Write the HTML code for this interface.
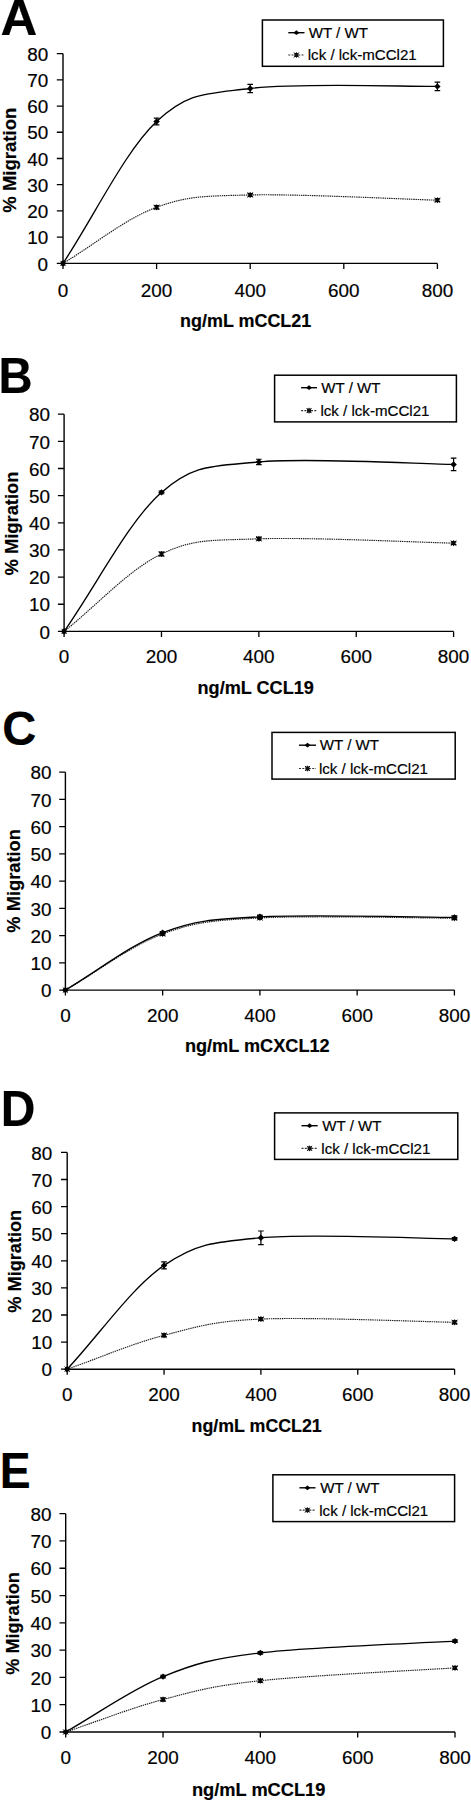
<!DOCTYPE html>
<html><head><meta charset="utf-8"><style>
html,body{margin:0;padding:0;background:#fff;}
body{width:471px;height:1800px;overflow:hidden;}
svg{display:block;font-family:"Liberation Sans", sans-serif;}
text{stroke:#000;stroke-width:0.18px;}
</style></head><body>
<svg width="471" height="1800" viewBox="0 0 471 1800" fill="#000">
<text transform="translate(0.57,35.3) scale(1.020,1)" font-size="49.93" font-weight="bold">A</text>
<path d="M63,53.6 V263.4" stroke="#000" stroke-width="1.4" fill="none"/>
<path d="M56.8,263.4 H63 M56.8,237.17 H63 M56.8,210.95 H63 M56.8,184.72 H63 M56.8,158.5 H63 M56.8,132.27 H63 M56.8,106.05 H63 M56.8,79.82 H63 M56.8,53.6 H63 " stroke="#000" stroke-width="1.3" fill="none"/>
<text x="37.57" y="270.61" font-size="18.9">0</text>
<text x="27.18" y="244.38" font-size="18.9">10</text>
<text x="27.18" y="218.16" font-size="18.9">20</text>
<text x="27.18" y="191.93" font-size="18.9">30</text>
<text x="27.18" y="165.71" font-size="18.9">40</text>
<text x="27.18" y="139.48" font-size="18.9">50</text>
<text x="27.18" y="113.26" font-size="18.9">60</text>
<text x="27.18" y="87.03" font-size="18.9">70</text>
<text x="27.18" y="60.81" font-size="18.9">80</text>
<text transform="translate(15.63,212.66) rotate(-90)" font-size="18.53" font-weight="bold">% Migration</text>
<path d="M63,263.4 H437.4" stroke="#000" stroke-width="1.4" fill="none"/>
<path d="M63,263.4 V268.9 M156.6,263.4 V268.9 M250.2,263.4 V268.9 M343.8,263.4 V268.9 M437.4,263.4 V268.9 " stroke="#000" stroke-width="1.3" fill="none"/>
<text x="63" y="296.5" font-size="18.9" text-anchor="middle">0</text>
<text x="156.6" y="296.5" font-size="18.9" text-anchor="middle">200</text>
<text x="250.2" y="296.5" font-size="18.9" text-anchor="middle">400</text>
<text x="343.8" y="296.5" font-size="18.9" text-anchor="middle">600</text>
<text x="437.4" y="296.5" font-size="18.9" text-anchor="middle">800</text>
<text x="180.04" y="326.7" font-size="17.96" font-weight="bold" xml:space="preserve">ng/mL mCCL21</text>
<rect x="262.4" y="20" width="181" height="46.3" fill="none" stroke="#000" stroke-width="1.5"/>
<path d="M288.3,32.7 H304.5" stroke="#000" stroke-width="1.4"/>
<path d="M296.4,30.3 L299.4,32.7 L296.4,35.1 L293.4,32.7Z" fill="#000"/>
<path d="M288.3,55 H304.5" stroke="#333" stroke-width="1.2" stroke-dasharray="2,1.3"/>
<rect x="294.4" y="53" width="4" height="4" fill="#111"/><path d="M293.9,52.5 L298.9,57.5 M298.9,52.5 L293.9,57.5 M296.4,52.2 L296.4,57.8" stroke="#111" stroke-width="1"/>
<text x="308.65" y="37.8" font-size="15.1" font-weight="normal" xml:space="preserve">WT / WT</text>
<text x="307.74" y="60.4" font-size="15.1" font-weight="normal" xml:space="preserve">lck / lck-mCCl21</text>
<path d="M63,263.4 C94.2,244.69 125.4,218.69 156.6,207.28 C187.8,195.87 203.4,196.13 250.2,194.95 C297,193.77 406.2,199.32 437.4,200.2" stroke="#1a1a1a" stroke-width="1.15" fill="none" stroke-dasharray="1.4,0.8"/>
<path d="M63,263.4 C94.2,216.11 125.4,150.68 156.6,121.52 C187.8,92.37 203.4,94.34 250.2,88.48 C297,82.62 406.2,86.73 437.4,86.38" stroke="#000" stroke-width="1.35" fill="none"/>
<rect x="61" y="261.4" width="4" height="4" fill="#111"/><path d="M60.4,260.8 L65.6,266 M65.6,260.8 L60.4,266 M63,260.5 L63,266.3" stroke="#111" stroke-width="1"/>

<rect x="154.6" y="205.28" width="4" height="4" fill="#111"/><path d="M154,204.68 L159.2,209.88 M159.2,204.68 L154,209.88 M156.6,204.38 L156.6,210.18" stroke="#111" stroke-width="1"/>
<path d="M156.6,205.7 V208.85 M153.8,205.7 H159.4 M153.8,208.85 H159.4" stroke="#000" stroke-width="1.2" fill="none"/>
<rect x="248.2" y="192.95" width="4" height="4" fill="#111"/><path d="M247.6,192.35 L252.8,197.55 M252.8,192.35 L247.6,197.55 M250.2,192.05 L250.2,197.85" stroke="#111" stroke-width="1"/>
<path d="M250.2,193.64 V196.26 M247.4,193.64 H253 M247.4,196.26 H253" stroke="#000" stroke-width="1.2" fill="none"/>
<rect x="435.4" y="198.2" width="4" height="4" fill="#111"/><path d="M434.8,197.6 L440,202.8 M440,197.6 L434.8,202.8 M437.4,197.3 L437.4,203.1" stroke="#111" stroke-width="1"/>
<path d="M437.4,198.89 V201.51 M434.6,198.89 H440.2 M434.6,201.51 H440.2" stroke="#000" stroke-width="1.2" fill="none"/>
<path d="M63,260.2 L66.2,263.4 L63,266.6 L59.8,263.4Z" fill="#000"/>

<path d="M156.6,118.32 L159.8,121.52 L156.6,124.72 L153.4,121.52Z" fill="#000"/>
<path d="M156.6,118.11 V124.93 M153.8,118.11 H159.4 M153.8,124.93 H159.4" stroke="#000" stroke-width="1.2" fill="none"/>
<path d="M250.2,85.28 L253.4,88.48 L250.2,91.68 L247,88.48Z" fill="#000"/>
<path d="M250.2,84.28 V92.68 M247.4,84.28 H253 M247.4,92.68 H253" stroke="#000" stroke-width="1.2" fill="none"/>
<path d="M437.4,83.18 L440.6,86.38 L437.4,89.58 L434.2,86.38Z" fill="#000"/>
<path d="M437.4,82.19 V90.58 M434.6,82.19 H440.2 M434.6,90.58 H440.2" stroke="#000" stroke-width="1.2" fill="none"/>
<text transform="translate(-1.4,393.2) scale(0.947,1)" font-size="49.86" font-weight="bold">B</text>
<path d="M64.1,414.2 V631.4" stroke="#000" stroke-width="1.4" fill="none"/>
<path d="M57.9,631.4 H64.1 M57.9,604.25 H64.1 M57.9,577.1 H64.1 M57.9,549.95 H64.1 M57.9,522.8 H64.1 M57.9,495.65 H64.1 M57.9,468.5 H64.1 M57.9,441.35 H64.1 M57.9,414.2 H64.1 " stroke="#000" stroke-width="1.3" fill="none"/>
<text x="39.47" y="638.61" font-size="18.9">0</text>
<text x="29.08" y="611.46" font-size="18.9">10</text>
<text x="29.08" y="584.31" font-size="18.9">20</text>
<text x="29.08" y="557.16" font-size="18.9">30</text>
<text x="29.08" y="530.01" font-size="18.9">40</text>
<text x="29.08" y="502.86" font-size="18.9">50</text>
<text x="29.08" y="475.71" font-size="18.9">60</text>
<text x="29.08" y="448.56" font-size="18.9">70</text>
<text x="29.08" y="421.41" font-size="18.9">80</text>
<text transform="translate(17.82,575.55) rotate(-90)" font-size="18.38" font-weight="bold">% Migration</text>
<path d="M64.1,631.4 H453.6" stroke="#000" stroke-width="1.4" fill="none"/>
<path d="M64.1,631.4 V636.9 M161.47,631.4 V636.9 M258.85,631.4 V636.9 M356.23,631.4 V636.9 M453.6,631.4 V636.9 " stroke="#000" stroke-width="1.3" fill="none"/>
<text x="64.1" y="663.3" font-size="18.9" text-anchor="middle">0</text>
<text x="161.47" y="663.3" font-size="18.9" text-anchor="middle">200</text>
<text x="258.85" y="663.3" font-size="18.9" text-anchor="middle">400</text>
<text x="356.23" y="663.3" font-size="18.9" text-anchor="middle">600</text>
<text x="453.6" y="663.3" font-size="18.9" text-anchor="middle">800</text>
<text x="197.53" y="694.2" font-size="18.12" font-weight="bold" xml:space="preserve">ng/mL CCL19</text>
<rect x="274.6" y="375.2" width="181.8" height="46.7" fill="none" stroke="#000" stroke-width="1.5"/>
<path d="M301.1,387.7 H317" stroke="#000" stroke-width="1.4"/>
<path d="M309.05,385.3 L312.05,387.7 L309.05,390.1 L306.05,387.7Z" fill="#000"/>
<path d="M301.1,410.6 H317" stroke="#333" stroke-width="1.2" stroke-dasharray="2,1.3"/>
<rect x="307.05" y="408.6" width="4" height="4" fill="#111"/><path d="M306.55,408.1 L311.55,413.1 M311.55,408.1 L306.55,413.1 M309.05,407.8 L309.05,413.4" stroke="#111" stroke-width="1"/>
<text x="321.35" y="392.8" font-size="15.1" font-weight="normal" xml:space="preserve">WT / WT</text>
<text x="320.44" y="416" font-size="15.1" font-weight="normal" xml:space="preserve">lck / lck-mCCl21</text>
<path d="M64.1,631.4 C96.56,605.61 129.02,569.45 161.47,554.02 C193.93,538.59 210.16,540.63 258.85,538.82 C307.54,537.01 421.14,542.44 453.6,543.16" stroke="#1a1a1a" stroke-width="1.15" fill="none" stroke-dasharray="1.4,0.8"/>
<path d="M64.1,631.4 C96.56,585.06 129.02,520.63 161.47,492.39 C193.93,464.16 210.16,466.64 258.85,461.98 C307.54,457.32 421.14,464.02 453.6,464.43" stroke="#000" stroke-width="1.35" fill="none"/>
<rect x="62.1" y="629.4" width="4" height="4" fill="#111"/><path d="M61.5,628.8 L66.7,634 M66.7,628.8 L61.5,634 M64.1,628.5 L64.1,634.3" stroke="#111" stroke-width="1"/>

<rect x="159.47" y="552.02" width="4" height="4" fill="#111"/><path d="M158.88,551.42 L164.07,556.62 M164.07,551.42 L158.88,556.62 M161.47,551.12 L161.47,556.92" stroke="#111" stroke-width="1"/>
<path d="M161.47,552.12 V555.92 M158.67,552.12 H164.28 M158.67,555.92 H164.28" stroke="#000" stroke-width="1.2" fill="none"/>
<rect x="256.85" y="536.82" width="4" height="4" fill="#111"/><path d="M256.25,536.22 L261.45,541.42 M261.45,536.22 L256.25,541.42 M258.85,535.92 L258.85,541.72" stroke="#111" stroke-width="1"/>
<path d="M258.85,537.46 V540.18 M256.05,537.46 H261.65 M256.05,540.18 H261.65" stroke="#000" stroke-width="1.2" fill="none"/>
<rect x="451.6" y="541.16" width="4" height="4" fill="#111"/><path d="M451,540.56 L456.2,545.76 M456.2,540.56 L451,545.76 M453.6,540.26 L453.6,546.06" stroke="#111" stroke-width="1"/>
<path d="M453.6,541.81 V544.52 M450.8,541.81 H456.4 M450.8,544.52 H456.4" stroke="#000" stroke-width="1.2" fill="none"/>
<path d="M64.1,628.2 L67.3,631.4 L64.1,634.6 L60.9,631.4Z" fill="#000"/>

<path d="M161.47,489.19 L164.67,492.39 L161.47,495.59 L158.28,492.39Z" fill="#000"/>
<path d="M161.47,491.03 V493.75 M158.67,491.03 H164.28 M158.67,493.75 H164.28" stroke="#000" stroke-width="1.2" fill="none"/>
<path d="M258.85,458.78 L262.05,461.98 L258.85,465.18 L255.65,461.98Z" fill="#000"/>
<path d="M258.85,459.27 V464.7 M256.05,459.27 H261.65 M256.05,464.7 H261.65" stroke="#000" stroke-width="1.2" fill="none"/>
<path d="M453.6,461.23 L456.8,464.43 L453.6,467.63 L450.4,464.43Z" fill="#000"/>
<path d="M453.6,458.18 V470.67 M450.8,458.18 H456.4 M450.8,470.67 H456.4" stroke="#000" stroke-width="1.2" fill="none"/>
<text transform="translate(2.32,744.92) scale(0.977,1)" font-size="48.17" font-weight="bold">C</text>
<path d="M65.4,772.18 V990.1" stroke="#000" stroke-width="1.4" fill="none"/>
<path d="M59.2,990.1 H65.4 M59.2,962.86 H65.4 M59.2,935.62 H65.4 M59.2,908.38 H65.4 M59.2,881.14 H65.4 M59.2,853.9 H65.4 M59.2,826.66 H65.4 M59.2,799.42 H65.4 M59.2,772.18 H65.4 " stroke="#000" stroke-width="1.3" fill="none"/>
<text x="40.97" y="997.31" font-size="18.9">0</text>
<text x="30.58" y="970.07" font-size="18.9">10</text>
<text x="30.58" y="942.83" font-size="18.9">20</text>
<text x="30.58" y="915.59" font-size="18.9">30</text>
<text x="30.58" y="888.35" font-size="18.9">40</text>
<text x="30.58" y="861.11" font-size="18.9">50</text>
<text x="30.58" y="833.87" font-size="18.9">60</text>
<text x="30.58" y="806.63" font-size="18.9">70</text>
<text x="30.58" y="779.39" font-size="18.9">80</text>
<text transform="translate(19.75,932.65) rotate(-90)" font-size="18.29" font-weight="bold">% Migration</text>
<path d="M65.4,990.1 H454.4" stroke="#000" stroke-width="1.4" fill="none"/>
<path d="M65.4,990.1 V995.6 M162.65,990.1 V995.6 M259.9,990.1 V995.6 M357.15,990.1 V995.6 M454.4,990.1 V995.6 " stroke="#000" stroke-width="1.3" fill="none"/>
<text x="65.4" y="1022" font-size="18.9" text-anchor="middle">0</text>
<text x="162.65" y="1022" font-size="18.9" text-anchor="middle">200</text>
<text x="259.9" y="1022" font-size="18.9" text-anchor="middle">400</text>
<text x="357.15" y="1022" font-size="18.9" text-anchor="middle">600</text>
<text x="454.4" y="1022" font-size="18.9" text-anchor="middle">800</text>
<text x="184.93" y="1051.7" font-size="18.14" font-weight="bold" xml:space="preserve">ng/mL mCXCL12</text>
<rect x="272" y="732.4" width="183.2" height="46.7" fill="none" stroke="#000" stroke-width="1.5"/>
<path d="M299,745.2 H316" stroke="#000" stroke-width="1.4"/>
<path d="M307.5,742.8 L310.5,745.2 L307.5,747.6 L304.5,745.2Z" fill="#000"/>
<path d="M299,768.5 H316" stroke="#333" stroke-width="1.2" stroke-dasharray="2,1.3"/>
<rect x="305.5" y="766.5" width="4" height="4" fill="#111"/><path d="M305,766 L310,771 M310,766 L305,771 M307.5,765.7 L307.5,771.3" stroke="#111" stroke-width="1"/>
<text x="319.85" y="750.3" font-size="15.1" font-weight="normal" xml:space="preserve">WT / WT</text>
<text x="318.94" y="773.9" font-size="15.1" font-weight="normal" xml:space="preserve">lck / lck-mCCl21</text>
<path d="M65.4,990.1 C97.82,971.4 130.23,946.02 162.65,933.99 C195.07,921.95 211.27,920.55 259.9,917.91 C308.52,915.28 421.98,918.14 454.4,918.19" stroke="#1a1a1a" stroke-width="1.15" fill="none" stroke-dasharray="1.4,0.8"/>
<path d="M65.4,990.1 C97.82,970.94 130.23,944.84 162.65,932.62 C195.07,920.41 211.27,919.37 259.9,916.82 C308.52,914.28 421.98,917.28 454.4,917.37" stroke="#000" stroke-width="1.35" fill="none"/>
<rect x="63.4" y="988.1" width="4" height="4" fill="#111"/><path d="M62.8,987.5 L68,992.7 M68,987.5 L62.8,992.7 M65.4,987.2 L65.4,993" stroke="#111" stroke-width="1"/>

<rect x="160.65" y="931.99" width="4" height="4" fill="#111"/><path d="M160.05,931.39 L165.25,936.59 M165.25,931.39 L160.05,936.59 M162.65,931.09 L162.65,936.89" stroke="#111" stroke-width="1"/>
<path d="M162.65,932.9 V935.08 M159.85,932.9 H165.45 M159.85,935.08 H165.45" stroke="#000" stroke-width="1.2" fill="none"/>
<rect x="257.9" y="915.91" width="4" height="4" fill="#111"/><path d="M257.3,915.31 L262.5,920.51 M262.5,915.31 L257.3,920.51 M259.9,915.01 L259.9,920.81" stroke="#111" stroke-width="1"/>
<path d="M259.9,916.82 V919 M257.1,916.82 H262.7 M257.1,919 H262.7" stroke="#000" stroke-width="1.2" fill="none"/>
<rect x="452.4" y="916.19" width="4" height="4" fill="#111"/><path d="M451.8,915.59 L457,920.79 M457,915.59 L451.8,920.79 M454.4,915.29 L454.4,921.09" stroke="#111" stroke-width="1"/>
<path d="M454.4,917.1 V919.28 M451.6,917.1 H457.2 M451.6,919.28 H457.2" stroke="#000" stroke-width="1.2" fill="none"/>
<path d="M65.4,986.9 L68.6,990.1 L65.4,993.3 L62.2,990.1Z" fill="#000"/>

<path d="M162.65,929.42 L165.85,932.62 L162.65,935.82 L159.45,932.62Z" fill="#000"/>
<path d="M162.65,931.53 V933.71 M159.85,931.53 H165.45 M159.85,933.71 H165.45" stroke="#000" stroke-width="1.2" fill="none"/>
<path d="M259.9,913.62 L263.1,916.82 L259.9,920.02 L256.7,916.82Z" fill="#000"/>
<path d="M259.9,915.19 V918.46 M257.1,915.19 H262.7 M257.1,918.46 H262.7" stroke="#000" stroke-width="1.2" fill="none"/>
<path d="M454.4,914.17 L457.6,917.37 L454.4,920.57 L451.2,917.37Z" fill="#000"/>
<path d="M454.4,915.73 V919 M451.6,915.73 H457.2 M451.6,919 H457.2" stroke="#000" stroke-width="1.2" fill="none"/>
<text transform="translate(0.84,1125.8) scale(0.975,1)" font-size="49.28" font-weight="bold">D</text>
<path d="M67.2,1152.4 V1369.2" stroke="#000" stroke-width="1.4" fill="none"/>
<path d="M61,1369.2 H67.2 M61,1342.1 H67.2 M61,1315 H67.2 M61,1287.9 H67.2 M61,1260.8 H67.2 M61,1233.7 H67.2 M61,1206.6 H67.2 M61,1179.5 H67.2 M61,1152.4 H67.2 " stroke="#000" stroke-width="1.3" fill="none"/>
<text x="41.57" y="1376.41" font-size="18.9">0</text>
<text x="31.18" y="1349.31" font-size="18.9">10</text>
<text x="31.18" y="1322.21" font-size="18.9">20</text>
<text x="31.18" y="1295.11" font-size="18.9">30</text>
<text x="31.18" y="1268.01" font-size="18.9">40</text>
<text x="31.18" y="1240.91" font-size="18.9">50</text>
<text x="31.18" y="1213.81" font-size="18.9">60</text>
<text x="31.18" y="1186.71" font-size="18.9">70</text>
<text x="31.18" y="1159.61" font-size="18.9">80</text>
<text transform="translate(20.85,1312.64) rotate(-90)" font-size="18.15" font-weight="bold">% Migration</text>
<path d="M67.2,1369.2 H454.6" stroke="#000" stroke-width="1.4" fill="none"/>
<path d="M67.2,1369.2 V1374.7 M164.05,1369.2 V1374.7 M260.9,1369.2 V1374.7 M357.75,1369.2 V1374.7 M454.6,1369.2 V1374.7 " stroke="#000" stroke-width="1.3" fill="none"/>
<text x="67.2" y="1401.1" font-size="18.9" text-anchor="middle">0</text>
<text x="164.05" y="1401.1" font-size="18.9" text-anchor="middle">200</text>
<text x="260.9" y="1401.1" font-size="18.9" text-anchor="middle">400</text>
<text x="357.75" y="1401.1" font-size="18.9" text-anchor="middle">600</text>
<text x="454.6" y="1401.1" font-size="18.9" text-anchor="middle">800</text>
<text x="191.55" y="1432.1" font-size="17.81" font-weight="bold" xml:space="preserve">ng/mL mCCL21</text>
<rect x="274.6" y="1112.9" width="183.2" height="46.5" fill="none" stroke="#000" stroke-width="1.5"/>
<path d="M301.5,1125.7 H317.7" stroke="#000" stroke-width="1.4"/>
<path d="M309.6,1123.3 L312.6,1125.7 L309.6,1128.1 L306.6,1125.7Z" fill="#000"/>
<path d="M301.5,1148.4 H317.7" stroke="#333" stroke-width="1.2" stroke-dasharray="2,1.3"/>
<rect x="307.6" y="1146.4" width="4" height="4" fill="#111"/><path d="M307.1,1145.9 L312.1,1150.9 M312.1,1145.9 L307.1,1150.9 M309.6,1145.6 L309.6,1151.2" stroke="#111" stroke-width="1"/>
<text x="322.25" y="1130.8" font-size="15.1" font-weight="normal" xml:space="preserve">WT / WT</text>
<text x="321.34" y="1153.8" font-size="15.1" font-weight="normal" xml:space="preserve">lck / lck-mCCl21</text>
<path d="M67.2,1369.2 C99.48,1357.91 131.77,1343.68 164.05,1335.33 C196.33,1326.97 212.48,1321.23 260.9,1319.07 C309.33,1316.9 422.32,1321.78 454.6,1322.32" stroke="#1a1a1a" stroke-width="1.15" fill="none" stroke-dasharray="1.4,0.8"/>
<path d="M67.2,1369.2 C99.48,1334.6 131.77,1287.31 164.05,1265.41 C196.33,1243.5 212.48,1242.19 260.9,1237.77 C309.33,1233.34 422.32,1238.67 454.6,1238.85" stroke="#000" stroke-width="1.35" fill="none"/>
<rect x="65.2" y="1367.2" width="4" height="4" fill="#111"/><path d="M64.6,1366.6 L69.8,1371.8 M69.8,1366.6 L64.6,1371.8 M67.2,1366.3 L67.2,1372.1" stroke="#111" stroke-width="1"/>

<rect x="162.05" y="1333.33" width="4" height="4" fill="#111"/><path d="M161.45,1332.73 L166.65,1337.92 M166.65,1332.73 L161.45,1337.92 M164.05,1332.43 L164.05,1338.22" stroke="#111" stroke-width="1"/>
<path d="M164.05,1333.97 V1336.68 M161.25,1333.97 H166.85 M161.25,1336.68 H166.85" stroke="#000" stroke-width="1.2" fill="none"/>
<rect x="258.9" y="1317.07" width="4" height="4" fill="#111"/><path d="M258.3,1316.47 L263.5,1321.66 M263.5,1316.47 L258.3,1321.66 M260.9,1316.17 L260.9,1321.96" stroke="#111" stroke-width="1"/>
<path d="M260.9,1317.71 V1320.42 M258.1,1317.71 H263.7 M258.1,1320.42 H263.7" stroke="#000" stroke-width="1.2" fill="none"/>
<rect x="452.6" y="1320.32" width="4" height="4" fill="#111"/><path d="M452,1319.72 L457.2,1324.92 M457.2,1319.72 L452,1324.92 M454.6,1319.42 L454.6,1325.22" stroke="#111" stroke-width="1"/>
<path d="M454.6,1320.96 V1323.67 M451.8,1320.96 H457.4 M451.8,1323.67 H457.4" stroke="#000" stroke-width="1.2" fill="none"/>
<path d="M67.2,1366 L70.4,1369.2 L67.2,1372.4 L64,1369.2Z" fill="#000"/>

<path d="M164.05,1262.21 L167.25,1265.41 L164.05,1268.61 L160.85,1265.41Z" fill="#000"/>
<path d="M164.05,1261.88 V1268.93 M161.25,1261.88 H166.85 M161.25,1268.93 H166.85" stroke="#000" stroke-width="1.2" fill="none"/>
<path d="M260.9,1234.57 L264.1,1237.77 L260.9,1240.97 L257.7,1237.77Z" fill="#000"/>
<path d="M260.9,1230.99 V1244.54 M258.1,1230.99 H263.7 M258.1,1244.54 H263.7" stroke="#000" stroke-width="1.2" fill="none"/>
<path d="M454.6,1235.65 L457.8,1238.85 L454.6,1242.05 L451.4,1238.85Z" fill="#000"/>
<path d="M454.6,1237.49 V1240.2 M451.8,1237.49 H457.4 M451.8,1240.2 H457.4" stroke="#000" stroke-width="1.2" fill="none"/>
<text transform="translate(-0.24,1487.8) scale(0.939,1)" font-size="49.28" font-weight="bold">E</text>
<path d="M65.7,1513.68 V1732" stroke="#000" stroke-width="1.4" fill="none"/>
<path d="M59.5,1732 H65.7 M59.5,1704.71 H65.7 M59.5,1677.42 H65.7 M59.5,1650.13 H65.7 M59.5,1622.84 H65.7 M59.5,1595.55 H65.7 M59.5,1568.26 H65.7 M59.5,1540.97 H65.7 M59.5,1513.68 H65.7 " stroke="#000" stroke-width="1.3" fill="none"/>
<text x="40.77" y="1739.21" font-size="18.9">0</text>
<text x="30.38" y="1711.92" font-size="18.9">10</text>
<text x="30.38" y="1684.63" font-size="18.9">20</text>
<text x="30.38" y="1657.34" font-size="18.9">30</text>
<text x="30.38" y="1630.05" font-size="18.9">40</text>
<text x="30.38" y="1602.76" font-size="18.9">50</text>
<text x="30.38" y="1575.47" font-size="18.9">60</text>
<text x="30.38" y="1548.18" font-size="18.9">70</text>
<text x="30.38" y="1520.89" font-size="18.9">80</text>
<text transform="translate(19.14,1674.74) rotate(-90)" font-size="18.13" font-weight="bold">% Migration</text>
<path d="M65.7,1732 H455" stroke="#000" stroke-width="1.4" fill="none"/>
<path d="M65.7,1732 V1737.5 M163.03,1732 V1737.5 M260.35,1732 V1737.5 M357.68,1732 V1737.5 M455,1732 V1737.5 " stroke="#000" stroke-width="1.3" fill="none"/>
<text x="65.7" y="1763.9" font-size="18.9" text-anchor="middle">0</text>
<text x="163.03" y="1763.9" font-size="18.9" text-anchor="middle">200</text>
<text x="260.35" y="1763.9" font-size="18.9" text-anchor="middle">400</text>
<text x="357.68" y="1763.9" font-size="18.9" text-anchor="middle">600</text>
<text x="455" y="1763.9" font-size="18.9" text-anchor="middle">800</text>
<text x="191.92" y="1795.5" font-size="18.25" font-weight="bold" xml:space="preserve">ng/mL mCCL19</text>
<rect x="272.9" y="1474.8" width="181.7" height="46.8" fill="none" stroke="#000" stroke-width="1.5"/>
<path d="M299.4,1487.8 H315.5" stroke="#000" stroke-width="1.4"/>
<path d="M307.45,1485.4 L310.45,1487.8 L307.45,1490.2 L304.45,1487.8Z" fill="#000"/>
<path d="M299.4,1510.1 H315.5" stroke="#333" stroke-width="1.2" stroke-dasharray="2,1.3"/>
<rect x="305.45" y="1508.1" width="4" height="4" fill="#111"/><path d="M304.95,1507.6 L309.95,1512.6 M309.95,1507.6 L304.95,1512.6 M307.45,1507.3 L307.45,1512.9" stroke="#111" stroke-width="1"/>
<text x="320.15" y="1492.9" font-size="15.1" font-weight="normal" xml:space="preserve">WT / WT</text>
<text x="319.24" y="1515.5" font-size="15.1" font-weight="normal" xml:space="preserve">lck / lck-mCCl21</text>
<path d="M65.7,1732 C98.14,1721.17 130.58,1708.08 163.03,1699.52 C195.47,1690.97 211.69,1685.97 260.35,1680.69 C309.01,1675.42 422.56,1670.01 455,1667.87" stroke="#1a1a1a" stroke-width="1.15" fill="none" stroke-dasharray="1.4,0.8"/>
<path d="M65.7,1732 C98.14,1713.53 130.58,1689.79 163.03,1676.6 C195.47,1663.41 211.69,1658.77 260.35,1652.86 C309.01,1646.95 422.56,1643.08 455,1641.12" stroke="#000" stroke-width="1.35" fill="none"/>
<rect x="63.7" y="1730" width="4" height="4" fill="#111"/><path d="M63.1,1729.4 L68.3,1734.6 M68.3,1729.4 L63.1,1734.6 M65.7,1729.1 L65.7,1734.9" stroke="#111" stroke-width="1"/>

<rect x="161.03" y="1697.52" width="4" height="4" fill="#111"/><path d="M160.43,1696.92 L165.62,1702.12 M165.62,1696.92 L160.43,1702.12 M163.03,1696.62 L163.03,1702.42" stroke="#111" stroke-width="1"/>
<path d="M163.03,1698.16 V1700.89 M160.22,1698.16 H165.83 M160.22,1700.89 H165.83" stroke="#000" stroke-width="1.2" fill="none"/>
<rect x="258.35" y="1678.69" width="4" height="4" fill="#111"/><path d="M257.75,1678.09 L262.95,1683.29 M262.95,1678.09 L257.75,1683.29 M260.35,1677.79 L260.35,1683.59" stroke="#111" stroke-width="1"/>
<path d="M260.35,1679.33 V1682.06 M257.55,1679.33 H263.15 M257.55,1682.06 H263.15" stroke="#000" stroke-width="1.2" fill="none"/>
<rect x="453" y="1665.87" width="4" height="4" fill="#111"/><path d="M452.4,1665.27 L457.6,1670.47 M457.6,1665.27 L452.4,1670.47 M455,1664.97 L455,1670.77" stroke="#111" stroke-width="1"/>
<path d="M455,1666.5 V1669.23 M452.2,1666.5 H457.8 M452.2,1669.23 H457.8" stroke="#000" stroke-width="1.2" fill="none"/>
<path d="M65.7,1728.8 L68.9,1732 L65.7,1735.2 L62.5,1732Z" fill="#000"/>

<path d="M163.03,1673.4 L166.22,1676.6 L163.03,1679.8 L159.83,1676.6Z" fill="#000"/>
<path d="M163.03,1675.24 V1677.97 M160.22,1675.24 H165.83 M160.22,1677.97 H165.83" stroke="#000" stroke-width="1.2" fill="none"/>
<path d="M260.35,1649.66 L263.55,1652.86 L260.35,1656.06 L257.15,1652.86Z" fill="#000"/>
<path d="M260.35,1651.49 V1654.22 M257.55,1651.49 H263.15 M257.55,1654.22 H263.15" stroke="#000" stroke-width="1.2" fill="none"/>
<path d="M455,1637.92 L458.2,1641.12 L455,1644.32 L451.8,1641.12Z" fill="#000"/>
<path d="M455,1639.76 V1642.49 M452.2,1639.76 H457.8 M452.2,1642.49 H457.8" stroke="#000" stroke-width="1.2" fill="none"/>
</svg>
</body></html>
